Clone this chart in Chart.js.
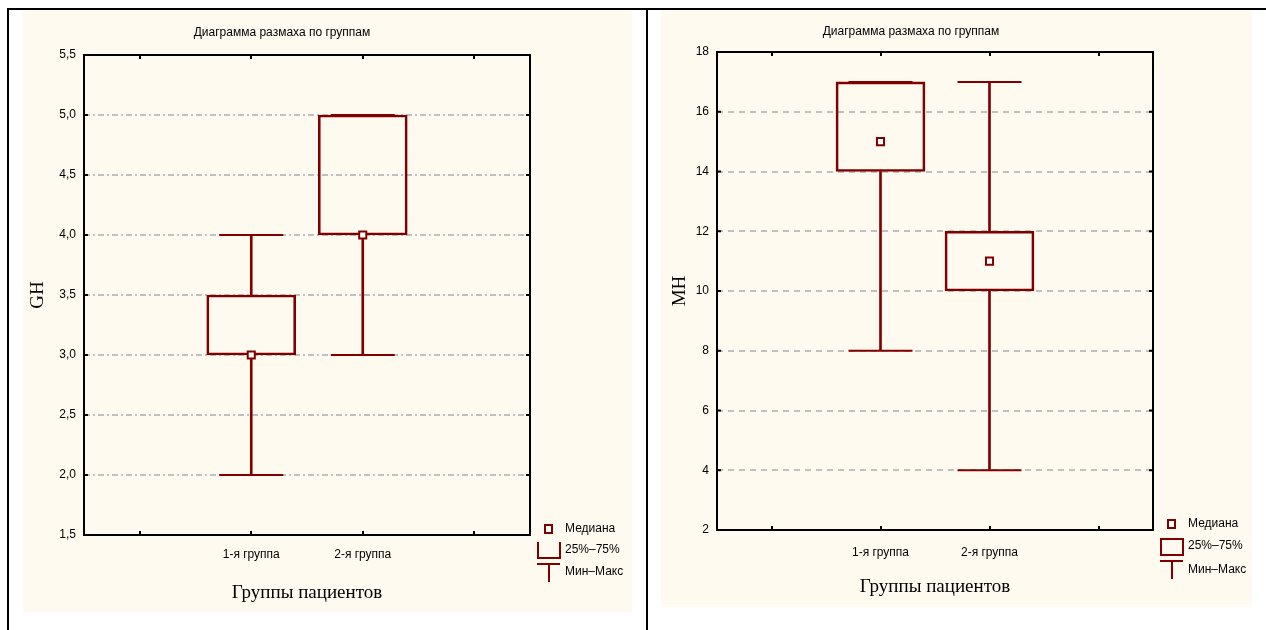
<!DOCTYPE html>
<html lang="ru">
<head>
<meta charset="UTF-8">
<title>Диаграмма размаха по группам</title>
<script src="https://cdn.jsdelivr.net/npm/chart.js"></script>
<style>
    body {
        margin: 0;
        width: 1266px;
        height: 630px;
        position: relative;
        overflow: hidden;
        background: #fff;
        font-family: 'Liberation Sans', Arial, sans-serif;
    }
    .line { position: absolute; background: #000; }
    .panel { position: absolute; background: #fffaf0; }
    .chart-title {
        position: absolute;
        width: 300px;
        text-align: center;
        font-size: 12px;
        line-height: 14px;
        color: #000;
    }
</style>
</head>
<body>

<div class="line" style="left:7px; top:8px; width:1259px; height:2px;"></div>
<div class="line" style="left:7px; top:8px; width:2px; height:622px;"></div>
<div class="line" style="left:646px; top:8px; width:2px; height:622px;"></div>

<div class="panel" style="left:23px; top:10px; width:609px; height:602px;">
    <canvas id="ghChart"></canvas>
</div>
<div class="panel" style="left:661px; top:10px; width:591px; height:597px;">
    <canvas id="mhChart"></canvas>
</div>

<div class="chart-title" style="left:132px; top:25px;">Диаграмма размаха по группам</div>
<div class="chart-title" style="left:761px; top:24px;">Диаграмма размаха по группам</div>

<script>
    // категории (крайние слоты пустые, как на исходной диаграмме)
    const categories = ['', '1-я группа', '2-я группа', ''];

    // GH
    const ghMin = [2.0, 3.0];
    const ghQ1 = [3.0, 4.0];
    const ghMedian = [3.0, 4.0];
    const ghQ3 = [3.5, 5.0];
    const ghMax = [4.0, 5.0];

    // MH
    const mhMin = [8, 4];
    const mhQ1 = [14, 10];
    const mhMedian = [15, 11];
    const mhQ3 = [17, 12];
    const mhMax = [17, 17];

    const legendLabels = ['Медиана', '25%–75%', 'Мин–Макс'];

    const dark = '#800000';
    const tickFont = { family: "'Liberation Sans', Arial, sans-serif", size: 12 };
    const serifFont = { family: "'Liberation Serif', 'Times New Roman', serif", size: 19 };

    const pad = arr => [null, ...arr, null];

    function makeDatasets(mins, q1s, meds, q3s, maxs) {
        return [
            {
                type: 'bar', grouped: false, order: 5,
                data: pad(mins.map((m, i) => [m, q1s[i]])),
                backgroundColor: dark, borderWidth: 0, barThickness: 2
            },
            {
                type: 'bar', grouped: false, order: 4,
                data: pad(q3s.map((q, i) => [q, maxs[i]])),
                backgroundColor: dark, borderWidth: 0, barThickness: 2
            },
            {
                type: 'bar', grouped: false, order: 3,
                data: pad(q1s.map((q, i) => [q, q3s[i]])),
                backgroundColor: 'rgba(0,0,0,0)', borderColor: dark,
                borderWidth: 2, borderSkipped: false, barThickness: 89
            },
            {
                type: 'line', order: 2, showLine: false,
                data: pad(mins),
                pointStyle: 'line', pointRadius: 32, borderColor: dark, pointBorderWidth: 2
            },
            {
                type: 'line', order: 2, showLine: false,
                data: pad(maxs),
                pointStyle: 'line', pointRadius: 32, borderColor: dark, pointBorderWidth: 2
            },
            {
                type: 'line', order: 1, showLine: false,
                data: pad(meds),
                pointStyle: 'rect', pointRadius: 5,
                pointBackgroundColor: '#fff', pointBorderColor: dark, pointBorderWidth: 2
            }
        ];
    }

    // рамка области построения и внутренние засечки
    const framePlugin = {
        id: 'frame',
        afterDatasetsDraw(chart) {
            const { ctx, chartArea: a, scales: { x, y } } = chart;
            ctx.save();
            ctx.strokeStyle = '#000';
            ctx.lineWidth = 2;
            ctx.strokeRect(a.left, a.top, a.right - a.left, a.bottom - a.top);
            ctx.beginPath();
            y.ticks.forEach((t, i) => {
                const py = y.getPixelForTick(i);
                ctx.moveTo(a.left, py); ctx.lineTo(a.left + 4, py);
                ctx.moveTo(a.right - 4, py); ctx.lineTo(a.right, py);
            });
            x.ticks.forEach((t, i) => {
                const px = Math.round(x.getPixelForTick(i));
                ctx.moveTo(px, a.top); ctx.lineTo(px, a.top + 4);
                ctx.moveTo(px, a.bottom); ctx.lineTo(px, a.bottom - 4);
            });
            ctx.stroke();
            ctx.restore();
        }
    };

    // легенда справа снизу
    const legendPlugin = {
        id: 'boxLegend',
        afterDraw(chart, args, o) {
            const { ctx, chartArea: a } = chart;
            const r = a.right, b = a.bottom;
            ctx.save();
            ctx.strokeStyle = dark;
            ctx.fillStyle = '#fff';
            ctx.lineWidth = 2;
            // медиана
            ctx.fillRect(r + 15, b - 10, 7, 8);
            ctx.strokeRect(r + 15, b - 10, 7, 8);
            // 25%-75%
            ctx.beginPath();
            if (o.closed) {
                ctx.rect(r + 8, b + 9, 22, 16);
            } else {
                ctx.moveTo(r + 8, b + 7);
                ctx.lineTo(r + 8, b + 23);
                ctx.lineTo(r + 30, b + 23);
                ctx.lineTo(r + 30, b + 7);
            }
            ctx.stroke();
            // мин-макс
            ctx.beginPath();
            ctx.moveTo(r + 7, b + o.capY);
            ctx.lineTo(r + 30, b + o.capY);
            ctx.moveTo(r + 19, b + o.capY);
            ctx.lineTo(r + 19, b + o.capY + 18);
            ctx.stroke();
            ctx.fillStyle = '#000';
            ctx.font = '12px "Liberation Sans", Arial, sans-serif';
            ctx.textBaseline = 'middle';
            ctx.textAlign = 'left';
            legendLabels.forEach((t, i) => ctx.fillText(t, r + 35, b + o.textY[i]));
            ctx.restore();
        }
    };

    function makeChart(id, cfg) {
        return new Chart(document.getElementById(id), {
            type: 'bar',
            data: { labels: categories, datasets: cfg.datasets },
            plugins: [framePlugin, legendPlugin],
            options: {
                responsive: true,
                maintainAspectRatio: false,
                animation: false,
                events: [],
                layout: { padding: { left: 0, top: cfg.top, right: cfg.right, bottom: 0 } },
                plugins: {
                    legend: { display: false },
                    tooltip: { enabled: false },
                    title: { display: false },
                    boxLegend: cfg.legend
                },
                scales: {
                    x: {
                        offset: true,
                        grid: { display: false, drawTicks: false },
                        border: { display: false },
                        ticks: { font: tickFont, color: '#000', padding: cfg.xTickPad, maxRotation: 0, autoSkip: false },
                        title: {
                            display: true, text: 'Группы пациентов', color: '#000',
                            font: serifFont, padding: { top: 0, bottom: cfg.xTitlePad }
                        },
                        afterFit: s => { s.height = cfg.xHeight; }
                    },
                    y: {
                        min: cfg.yMin, max: cfg.yMax,
                        ticks: {
                            stepSize: cfg.yStep, font: tickFont, color: '#000', padding: 8,
                            callback: cfg.yFormat
                        },
                        grid: {
                            color: '#c0c0c0', lineWidth: 2, drawTicks: false
                        },
                        border: { display: false, dash: cfg.dash },
                        title: {
                            display: true, text: cfg.yTitle, color: '#000',
                            font: serifFont, padding: { top: cfg.yTitlePad, bottom: 0 }
                        },
                        afterFit: s => { s.width = cfg.yWidth; }
                    }
                }
            }
        });
    }

    makeChart('ghChart', {
        datasets: makeDatasets(ghMin, ghQ1, ghMedian, ghQ3, ghMax),
        top: 45, right: 102, xHeight: 77, yWidth: 61,
        xTickPad: 12, xTitlePad: 8, yTitlePad: 4,
        yMin: 1.5, yMax: 5.5, yStep: 0.5,
        yFormat: v => v.toFixed(1).replace('.', ','),
        yTitle: 'GH',
        dash: [6, 3, 2, 3],
        legend: { closed: false, capY: 29, textY: [-6, 15, 37] }
    });

    makeChart('mhChart', {
        datasets: makeDatasets(mhMin, mhQ1, mhMedian, mhQ3, mhMax),
        top: 42, right: 99, xHeight: 77, yWidth: 56,
        xTickPad: 15, xTitlePad: 9, yTitlePad: 8,
        yMin: 2, yMax: 18, yStep: 2,
        yFormat: v => String(v),
        yTitle: 'MH',
        dash: [6, 5],
        legend: { closed: true, capY: 31, textY: [-6, 16, 40] }
    });
</script>

</body>
</html>
